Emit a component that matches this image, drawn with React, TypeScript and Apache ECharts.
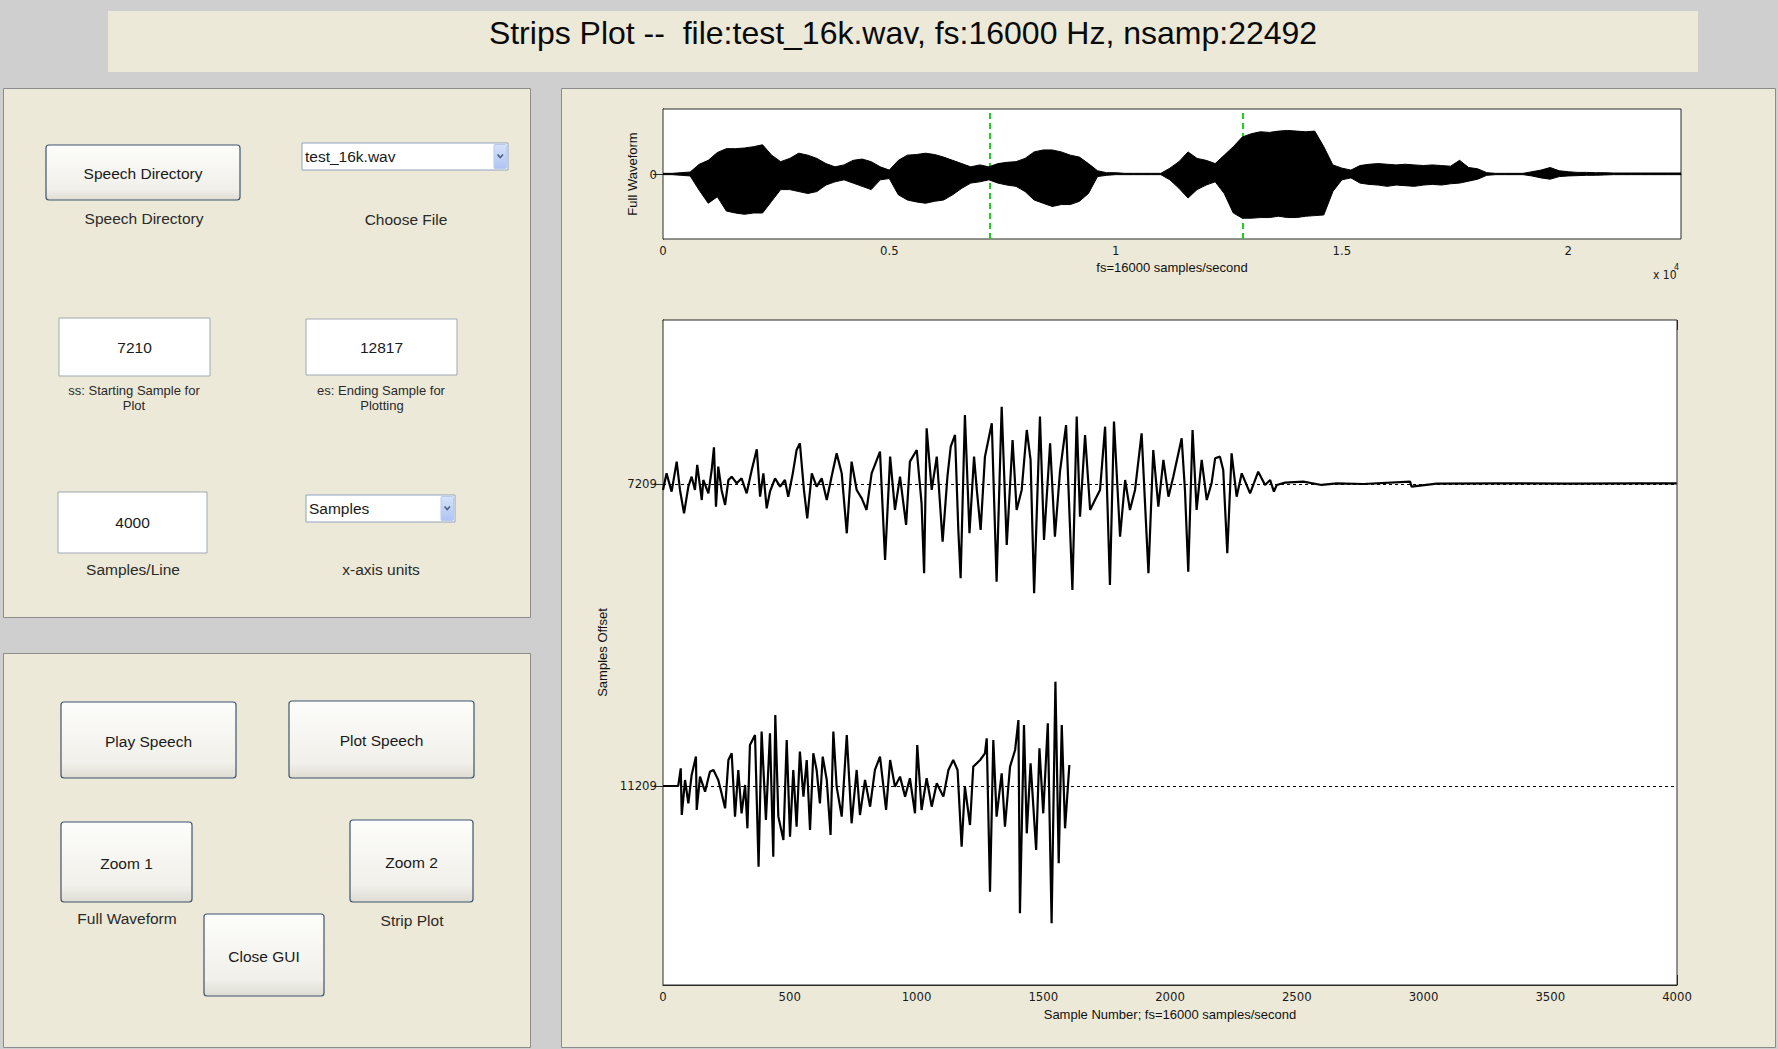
import React, { useEffect, useRef } from "react";
import * as echarts from "echarts";

// ---------------- data ----------------
const TITLE = "Strips Plot --  file:test_16k.wav, fs:16000 Hz, nsamp:22492";
const NSAMP = 22492;
const SS = 7210;
const ES = 12817;
const SAMPLES_PER_LINE = 4000;
const STRIP_OFFSETS = [7209, 11209];
const STRIP_Y_MIN = 5037;
const STRIP_Y_MAX = 13845;

const fullTickLabels = [0, 5000, 10000, 15000, 20000];
const fullTicks = [5000, 10000, 15000, 20000];

// Full waveform envelope (normalized amplitude), read every 200 samples
const fullEnvX = [
  0, 200, 400, 600, 800, 1000, 1200, 1400, 1600, 1800,
  2000, 2200, 2400, 2600, 2800, 3000, 3200, 3400, 3600, 3800,
  4000, 4200, 4400, 4600, 4800, 5000, 5200, 5400, 5600, 5800,
  6000, 6200, 6400, 6600, 6800, 7000, 7200, 7400, 7600, 7800,
  8000, 8200, 8400, 8600, 8800, 9000, 9200, 9400, 9600, 9800,
  10000, 10200, 10400, 10600, 10800, 11000, 11200, 11400, 11600, 11800,
  12000, 12200, 12400, 12600, 12800, 13000, 13200, 13400, 13600, 13800,
  14000, 14200, 14400, 14600, 14800, 15000, 15200, 15400, 15600, 15800,
  16000, 16200, 16400, 16600, 16800, 17000, 17200, 17400, 17600, 17800,
  18000, 18200, 18400, 18600, 18800, 19000, 19200, 19400, 19600, 19800,
  20000, 20200, 20400, 20600, 20800, 21000, 21200, 21400, 21600, 21800,
  22000, 22200, 22400, 22492,
];
const fullEnvHi = [
  0.01, 0.01, 0.02, 0.03, 0.15, 0.21, 0.33, 0.39, 0.39, 0.4,
  0.42, 0.45, 0.29, 0.19, 0.24, 0.32, 0.29, 0.24, 0.16, 0.11,
  0.14, 0.21, 0.23, 0.19, 0.11, 0.06, 0.21, 0.29, 0.3, 0.32,
  0.3, 0.26, 0.21, 0.16, 0.11, 0.14, 0.11, 0.16, 0.18, 0.19,
  0.24, 0.34, 0.37, 0.37, 0.34, 0.29, 0.26, 0.16, 0.05, 0.02,
  0.02, 0.01, 0.01, 0.01, 0.01, 0.01, 0.09, 0.19, 0.34, 0.24,
  0.21, 0.16, 0.29, 0.42, 0.57, 0.62, 0.65, 0.64, 0.66, 0.67,
  0.66, 0.65, 0.66, 0.42, 0.14, 0.09, 0.06, 0.13, 0.15, 0.16,
  0.15, 0.14, 0.15, 0.14, 0.13, 0.14, 0.13, 0.12, 0.21, 0.1,
  0.08, 0.02, 0.01, 0.01, 0.01, 0.01, 0.035, 0.06, 0.1, 0.05,
  0.035, 0.025, 0.025, 0.02, 0.02, 0.015, 0.015, 0.015, 0.015, 0.015,
  0.015, 0.015, 0.015, 0.015,
];
const fullEnvLo = [
  -0.01, -0.01, -0.02, -0.03, -0.25, -0.45, -0.35, -0.57, -0.6, -0.62,
  -0.6, -0.6, -0.42, -0.24, -0.24, -0.27, -0.3, -0.27, -0.17, -0.12,
  -0.09, -0.14, -0.19, -0.24, -0.09, -0.07, -0.32, -0.4, -0.43, -0.45,
  -0.42, -0.4, -0.32, -0.22, -0.14, -0.12, -0.09, -0.14, -0.17, -0.19,
  -0.27, -0.4, -0.45, -0.5, -0.47, -0.47, -0.42, -0.3, -0.04, -0.02,
  -0.01, -0.01, -0.01, -0.01, -0.01, -0.01, -0.09, -0.22, -0.37, -0.24,
  -0.17, -0.12, -0.3, -0.6, -0.68, -0.68, -0.67, -0.67, -0.65, -0.67,
  -0.67, -0.65, -0.64, -0.63, -0.27, -0.09, -0.06, -0.14, -0.16, -0.17,
  -0.19, -0.17, -0.18, -0.19, -0.17, -0.16, -0.17, -0.15, -0.14, -0.11,
  -0.08, -0.02, -0.01, -0.01, -0.01, -0.01, -0.03, -0.06, -0.08, -0.04,
  -0.03, -0.025, -0.02, -0.02, -0.015, -0.01, -0.01, -0.01, -0.01, -0.01,
  -0.01, -0.01, -0.01, -0.01,
];

// Strip 1 (samples 7210..11209): sample index in line, deviation (upward +)
const strip1X = [
  0, 14, 34, 54, 67, 83, 100, 113, 126, 135,
  153, 159, 179, 192, 201, 209, 218, 231, 245, 258,
  271, 291, 310, 330, 350, 370, 383, 396, 409, 422,
  442, 462, 481, 494, 512, 527, 540, 556, 569, 587,
  606, 626, 646, 665, 685, 705, 725, 744, 764, 784,
  803, 823, 856, 876, 896, 915, 935, 959, 974, 1001,
  1020, 1030, 1040, 1060, 1080, 1103, 1122, 1135, 1152, 1165,
  1174, 1191, 1209, 1227, 1238, 1253, 1270, 1297, 1316, 1336,
  1356, 1379, 1395, 1415, 1435, 1450, 1464, 1487, 1503, 1527,
  1546, 1566, 1590, 1615, 1632, 1645, 1665, 1685, 1704, 1724,
  1744, 1763, 1779, 1803, 1823, 1842, 1862, 1888, 1915, 1934,
  1954, 1974, 1994, 2013, 2046, 2059, 2072, 2089, 2105, 2125,
  2145, 2164, 2178, 2197, 2210, 2226, 2243, 2263, 2283, 2316,
  2348, 2375, 2395, 2410, 2421, 2454, 2526, 2598, 2658, 2763,
  2947, 2953, 3052, 3315, 3578, 3841, 3999,
];
const strip1Dev = [
  -79, 141, -102, 296, -79, -389, -35, 97, -79, 252,
  -212, 53, -124, 185, 486, -300, 230, -79, -278, 53,
  97, 9, 75, -124, 185, 459, -168, 141, -322, -102,
  75, -35, 53, -168, 141, 450, 539, -79, -455, 141,
  -35, 75, -212, 97, 406, 141, -653, 296, -79, -190,
  -344, 141, 428, -1007, 362, -344, 97, -543, 296, 450,
  -256, -1183, 737, -79, 362, -764, 97, 494, 649, -609,
  -1249, 914, -653, 362, -79, -609, 362, 804, -1294, 1024,
  -808, 583, -344, -79, 715, 318, -1448, 892, -742, 539,
  -698, 163, 781, -1404, 892, -433, 649, -344, -212, -79,
  759, -1338, 826, -698, 53, -344, -79, 671, -1183, 450,
  -300, 318, -168, 97, 605, -79, -1161, 715, -344, 318,
  -212, 9, 340, 362, 185, -918, 406, -168, 141, -124,
  163, -13, 53, -102, -13, 18, 31, -13, 9, 0,
  31, -35, 4, 9, 4, 9, 9,
];

// Strip 2 (samples 11210..12817)
const strip2X = [
  0, 28, 60, 70, 74, 87, 100, 113, 130, 133,
  146, 166, 185, 199, 218, 231, 245, 258, 271, 284,
  297, 310, 324, 333, 343, 363, 377, 389, 406, 422,
  435, 443, 455, 475, 488, 501, 514, 527, 540, 554,
  567, 580, 593, 606, 619, 630, 646, 661, 672, 685,
  705, 725, 744, 764, 777, 797, 817, 836, 856, 880,
  896, 915, 935, 955, 974, 994, 1003, 1020, 1040, 1060,
  1080, 1106, 1126, 1145, 1162, 1178, 1191, 1211, 1224, 1251,
  1270, 1277, 1290, 1303, 1316, 1336, 1349, 1369, 1389, 1402,
  1408, 1424, 1435, 1450, 1472, 1485, 1500, 1518, 1533, 1548,
  1561, 1573, 1586, 1603,
];
const strip2Dev = [
  0, 0, 0, 234, -384, 79, -230, 146, 389, -318,
  124, -75, 190, 212, 79, -97, -296, 344, 433, -406,
  212, -362, 13, -561, 543, 675, -1069, 720, -450, 698,
  -936, 940, -406, -715, 609, -671, 212, -539, 455, -141,
  344, -583, 433, 212, -230, 389, 79, -649, 720, -9,
  -406, 675, -494, 212, -384, 79, -274, 212, 389, -318,
  344, -9, 124, -141, 102, -362, 543, -318, 102, -274,
  35, -141, 212, 344, 212, -804, -9, -517, 256, 344,
  433, 631, -1400, 609, -406, 168, -539, 256, 477, 874,
  -1687, 808, -627, 300, -848, 499, -362, 830, -1819, 1382,
  -1024, 808, -561, 278,
];

const stripTicks = [7209, 11209];

// ---------------- styles ----------------
const FONT = "'Liberation Sans', Arial, sans-serif";
const NARROW = "'Liberation Sans Narrow', 'Arial Narrow', 'DejaVu Sans Condensed', 'Liberation Sans', Arial, sans-serif";
const BG = "#cfcfcf";
const PANEL = "#ece9d8";

function rect(x: number, y: number, w: number, h: number, fill: any, stroke: string, lw = 1, r = 0, z = 1) {
  return {
    type: "rect",
    z,
    silent: true,
    shape: { x, y, width: w, height: h, r },
    style: { fill, stroke, lineWidth: lw },
  };
}
function txt(x: number, y: number, t: string, size: number, align = "center", color = "#222", font = FONT) {
  return {
    type: "text",
    z: 3,
    silent: true,
    x,
    y,
    style: { text: t, fontSize: size, fontFamily: font, fill: color, align, verticalAlign: "middle" },
  };
}
function button(x: number, y: number, w: number, h: number, label: string) {
  const grad = new echarts.graphic.LinearGradient(0, 0, 0, 1, [
    { offset: 0, color: "#fdfdfb" },
    { offset: 0.8, color: "#f1f0ea" },
    { offset: 1, color: "#dedcd2" },
  ]);
  return [rect(x, y, w, h, grad, "#3d5570", 1.2, 3, 2), txt(x + w / 2, y + h / 2 + 1, label, 15.5, "center", "#1a1a1a")];
}
function editBox(x: number, y: number, w: number, h: number, value: string) {
  return [rect(x, y, w, h, "#ffffff", "#9fa9b4", 1, 0, 2), txt(x + w / 2, y + h / 2, value, 15.5, "center", "#1a1a1a")];
}
function dropdown(x: number, y: number, w: number, h: number, value: string) {
  const bx = x + w - 14;
  const grad = new echarts.graphic.LinearGradient(0, 0, 0, 1, [
    { offset: 0, color: "#d5e2fb" },
    { offset: 1, color: "#aec4f2" },
  ]);
  return [
    rect(x, y, w, h, "#ffffff", "#8fa3bd", 1, 0, 2),
    rect(bx, y + 1.5, 12.5, h - 3, grad, "#b8caee", 1, 1, 3),
    {
      type: "polyline",
      z: 4,
      silent: true,
      shape: { points: [[bx + 3.5, y + h / 2 - 2], [bx + 6.25, y + h / 2 + 1], [bx + 9, y + h / 2 - 2]] },
      style: { stroke: "#4b5f86", lineWidth: 1.6, fill: "none" },
    },
    txt(x + 3, y + h / 2, value, 15.5, "left", "#1a1a1a"),
  ];
}

export default function App() {
  const ref = useRef<HTMLDivElement>(null);

  useEffect(() => {
    if (!ref.current) return;
    const chart = echarts.init(ref.current, undefined, { renderer: "svg" });

    const hiData = fullEnvX.map((x, i) => [x, fullEnvHi[i]]);
    const loData = fullEnvX.map((x, i) => [x, fullEnvLo[i]]);
    const s1 = strip1X.map((x, i) => [x, STRIP_OFFSETS[0] - strip1Dev[i]]);
    const s2 = strip2X.map((x, i) => [x, STRIP_OFFSETS[1] - strip2Dev[i]]);

    const plain = (v: number) => String(v);
    const axisLineStyle = { lineStyle: { color: "#2b2b2b", width: 1 } };
    const tickStyle = { lineStyle: { color: "#2b2b2b", width: 1 } };
    const labelStyle = { color: "#1a1a1a", fontFamily: NARROW, fontSize: 13 };
    const nameStyle = { color: "#111", fontFamily: FONT, fontSize: 13 };

    const graphics: any[] = [
      rect(108, 11, 1590, 61, PANEL, "none", 0, 0, 0),
      txt(903, 33, TITLE, 32, "center", "#0a0a0a"),
      rect(3.5, 88.5, 527, 529, PANEL, "#8c8c8c", 1, 0, 0),
      rect(3.5, 653.5, 527, 394, PANEL, "#8c8c8c", 1, 0, 0),
      rect(561.5, 88.5, 1214, 959, PANEL, "#8c8c8c", 1, 0, 0),
      ...button(46, 145, 194, 55, "Speech Directory"),
      txt(144, 218, "Speech Directory", 15.5, "center", "#2a2a2a"),
      ...dropdown(302, 143, 206, 27, "test_16k.wav"),
      txt(406, 219, "Choose File", 15.5, "center", "#2a2a2a"),
      ...editBox(59, 318, 151, 58, "7210"),
      txt(134, 390, "ss: Starting Sample for", 13, "center", "#2a2a2a"),
      txt(134, 405, "Plot", 13, "center", "#2a2a2a"),
      ...editBox(306, 319, 151, 56, "12817"),
      txt(381, 390, "es: Ending Sample for", 13, "center", "#2a2a2a"),
      txt(382, 405, "Plotting", 13, "center", "#2a2a2a"),
      ...editBox(58, 492, 149, 61, String(SAMPLES_PER_LINE)),
      txt(133, 569, "Samples/Line", 15.5, "center", "#2a2a2a"),
      ...dropdown(306, 495, 149, 27, "Samples"),
      txt(381, 569, "x-axis units", 15.5, "center", "#2a2a2a"),
      ...button(61, 702, 175, 76, "Play Speech"),
      ...button(289, 701, 185, 77, "Plot Speech"),
      ...button(61, 822, 131, 80, "Zoom 1"),
      ...button(350, 820, 123, 82, "Zoom 2"),
      txt(127, 918, "Full Waveform", 15.5, "center", "#2a2a2a"),
      txt(412, 920, "Strip Plot", 15.5, "center", "#2a2a2a"),
      ...button(204, 914, 120, 82, "Close GUI"),
      txt(1653, 275, "x 10", 12, "left", "#1a1a1a", NARROW),
      txt(1674, 267, "4", 9, "left", "#1a1a1a", NARROW),
    ];

    chart.setOption({
      animation: false,
      backgroundColor: BG,
      graphic: { elements: graphics },
      grid: [
        { left: 663, top: 109, width: 1018, height: 130, show: true, backgroundColor: "#ffffff", borderColor: "#2b2b2b", borderWidth: 1, z: 5 },
        { left: 663, top: 320, width: 1014, height: 665, show: true, backgroundColor: "#ffffff", borderColor: "#2b2b2b", borderWidth: 1, z: 5 },
      ],
      xAxis: [
        {
          gridIndex: 0, type: "value", min: 0, max: NSAMP, position: "bottom",
          axisLine: axisLineStyle,
          axisTick: { inside: true, length: 10, customValues: fullTicks, ...tickStyle },
          axisLabel: { ...labelStyle, margin: 5, customValues: fullTickLabels, formatter: (v: number) => String(v / 10000) },
          splitLine: { show: false },
          name: "fs=16000 samples/second", nameLocation: "middle", nameGap: 22, nameTextStyle: nameStyle,
        },
        {
          gridIndex: 0, type: "value", min: 0, max: NSAMP, position: "top",
          axisLine: axisLineStyle,
          axisTick: { inside: true, length: 10, customValues: fullTicks, ...tickStyle },
          axisLabel: { show: false }, splitLine: { show: false },
        },
        {
          gridIndex: 1, type: "value", min: 0, max: SAMPLES_PER_LINE, interval: 500, position: "bottom",
          axisLine: axisLineStyle,
          axisTick: { inside: true, length: 10, ...tickStyle },
          axisLabel: { ...labelStyle, margin: 5, formatter: plain },
          splitLine: { show: false },
          name: "Sample Number; fs=16000 samples/second", nameLocation: "middle", nameGap: 21, nameTextStyle: nameStyle,
        },
        {
          gridIndex: 1, type: "value", min: 0, max: SAMPLES_PER_LINE, interval: 500, position: "top",
          axisLine: axisLineStyle,
          axisTick: { inside: true, length: 10, ...tickStyle },
          axisLabel: { show: false }, splitLine: { show: false },
        },
      ],
      yAxis: [
        {
          gridIndex: 0, type: "value", min: -1, max: 1, position: "left",
          axisLine: axisLineStyle,
          axisTick: { inside: true, length: 10, customValues: [0], ...tickStyle },
          axisLabel: { ...labelStyle, margin: 6, customValues: [0], formatter: plain },
          splitLine: { show: false },
          name: "Full Waveform", nameLocation: "middle", nameGap: 14.5, nameTextStyle: nameStyle,
        },
        {
          gridIndex: 0, type: "value", min: -1, max: 1, position: "right",
          axisLine: axisLineStyle,
          axisTick: { inside: true, length: 10, customValues: [0], ...tickStyle },
          axisLabel: { show: false }, splitLine: { show: false },
        },
        {
          gridIndex: 1, type: "value", min: STRIP_Y_MIN, max: STRIP_Y_MAX, inverse: true, position: "left",
          axisLine: axisLineStyle,
          axisTick: { inside: true, length: 10, customValues: stripTicks, ...tickStyle },
          axisLabel: { ...labelStyle, margin: 6, customValues: stripTicks, formatter: plain },
          splitLine: { show: false },
          name: "Samples Offset", nameLocation: "middle", nameGap: 36, nameTextStyle: nameStyle,
        },
        {
          gridIndex: 1, type: "value", min: STRIP_Y_MIN, max: STRIP_Y_MAX, inverse: true, position: "right",
          axisLine: axisLineStyle,
          axisTick: { inside: true, length: 10, customValues: stripTicks, ...tickStyle },
          axisLabel: { show: false }, splitLine: { show: false },
        },
      ],
      series: [
        {
          type: "line", xAxisIndex: 0, yAxisIndex: 0, data: hiData, symbol: "none", z: 6,
          lineStyle: { color: "#000", width: 1 }, areaStyle: { color: "#000", opacity: 1 },
        },
        {
          type: "line", xAxisIndex: 0, yAxisIndex: 0, data: loData, symbol: "none", z: 6,
          lineStyle: { color: "#000", width: 1 }, areaStyle: { color: "#000", opacity: 1 },
          markLine: {
            silent: true, symbol: "none", label: { show: false },
            lineStyle: { color: "#19d219", width: 2, type: [6, 4] },
            data: [{ xAxis: SS }, { xAxis: ES }],
          },
        },
        {
          type: "line", xAxisIndex: 2, yAxisIndex: 2, data: s1, symbol: "none", z: 7,
          lineStyle: { color: "#000", width: 2.2 },
          markLine: {
            silent: true, symbol: "none", label: { show: false },
            lineStyle: { color: "#000", width: 1, type: [3, 3] },
            data: STRIP_OFFSETS.map((v) => ({ yAxis: v })),
          },
        },
        {
          type: "line", xAxisIndex: 2, yAxisIndex: 2, data: s2, symbol: "none", z: 7,
          lineStyle: { color: "#000", width: 2.2 },
        },
      ],
    });

    return () => chart.dispose();
  }, []);

  return <div ref={ref} style={{ position: "absolute", left: 0, top: 0, width: 1778, height: 1049 }} />;
}
